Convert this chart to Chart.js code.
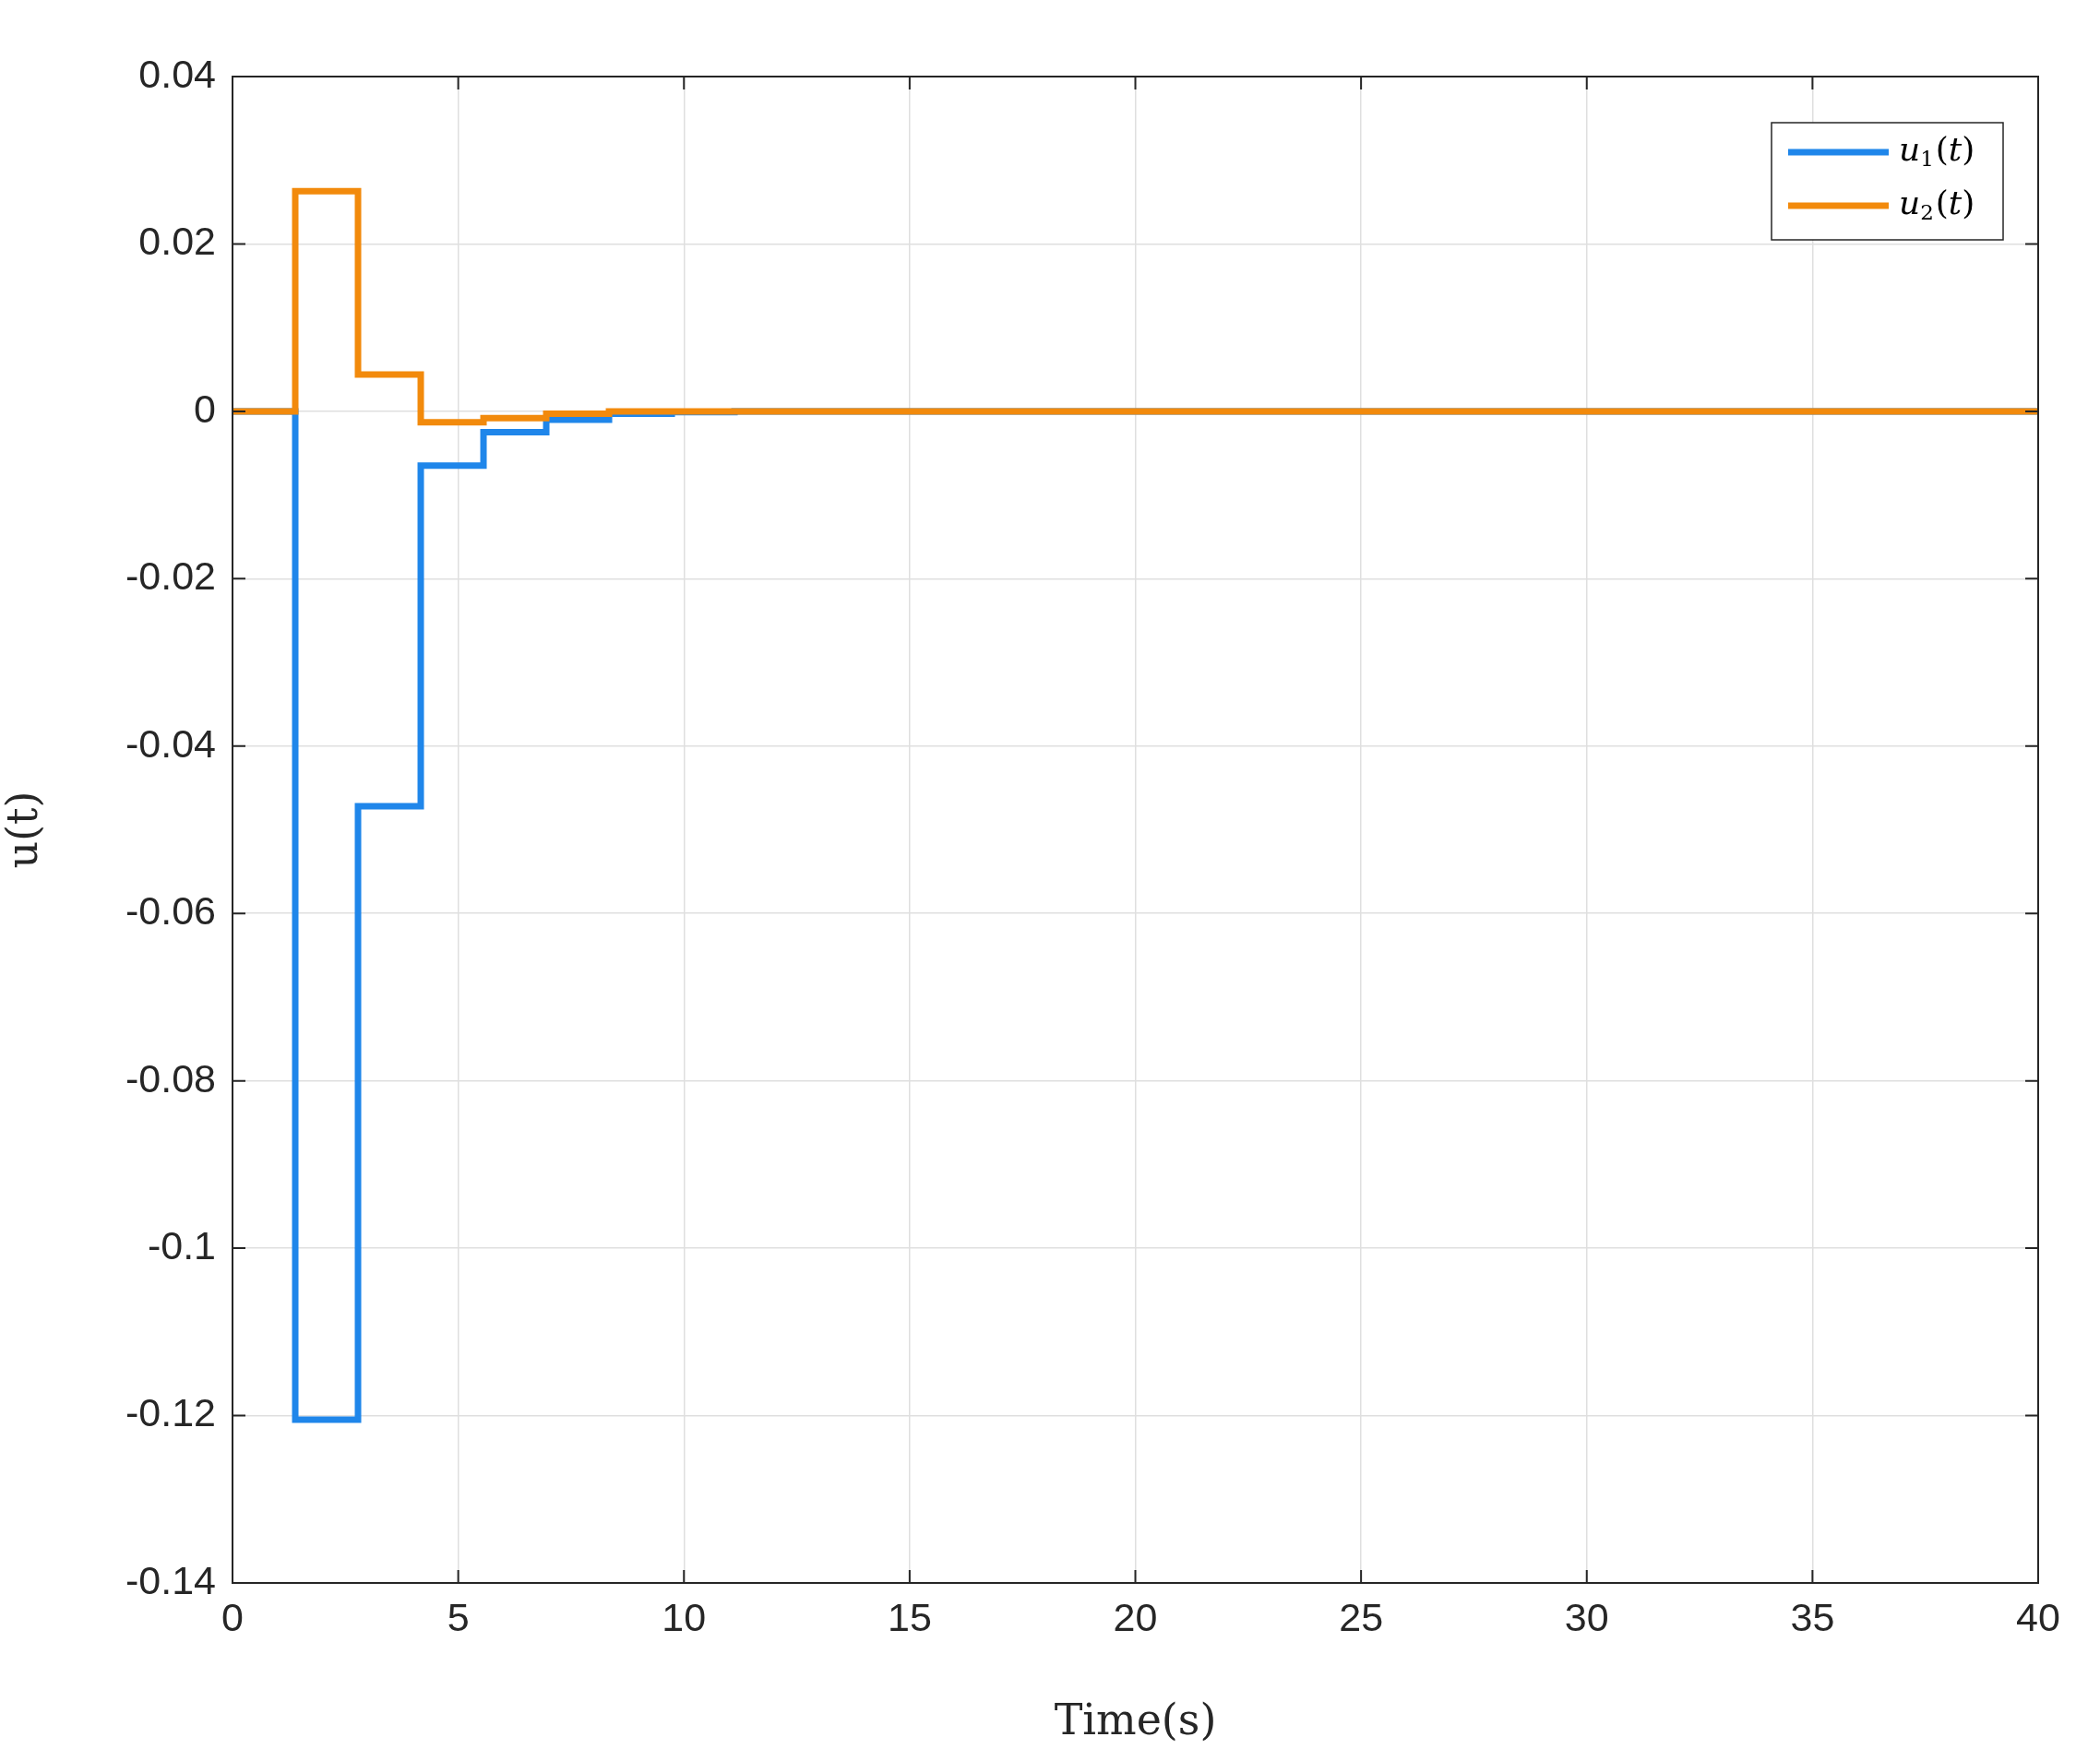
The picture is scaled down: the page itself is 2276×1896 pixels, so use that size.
<!DOCTYPE html>
<html><head><meta charset="utf-8">
<script src="https://cdn.jsdelivr.net/npm/chart.js@4"></script>
<style>html,body{margin:0;padding:0;background:#fff}</style>
</head><body>
<canvas id="c" width="2276" height="1896" style="width:2276px;height:1896px"></canvas>
<script>
const times = [0, 1.39, 2.78, 4.17, 5.56, 6.95, 8.34, 9.73, 11.12, 40];
const u1 = [0, -0.1205, -0.0472, -0.0065, -0.0025, -0.0010, -0.0003, -0.0001, 0, 0];
const u2 = [0, 0.0263, 0.0044, -0.0013, -0.0008, -0.0003, 0.0000, 0, 0, 0];
const xTicks = [0,5,10,15,20,25,30,35,40];
const yTicks = [-0.14,-0.12,-0.1,-0.08,-0.06,-0.04,-0.02,0,0.02,0.04];
const seriesNames = ['u1','u2'];
const colors = ['#1f86ea','#f28a0c'];

// value u_k is held from times[k-1] to times[k]
const pts = a => times.map((t,i)=>({x:t,y:a[i]}));
const fmt = v => { if (Math.abs(v)<1e-9) return '0'; let s = v.toFixed(2); s=s.replace(/0+$/,''); return s; };

const frame = {
  id:'frame',
  afterDraw(ch){
    const c=ch.ctx, a=ch.chartArea, xs=ch.scales.x, ys=ch.scales.y;
    c.save();
    c.strokeStyle='#262626'; c.lineWidth=2;
    c.strokeRect(a.left,a.top,a.right-a.left,a.bottom-a.top);
    const L=14;
    c.beginPath();
    xTicks.forEach(v=>{const x=xs.getPixelForValue(v);c.moveTo(x,a.bottom);c.lineTo(x,a.bottom-L);c.moveTo(x,a.top);c.lineTo(x,a.top+L);});
    yTicks.forEach(v=>{const y=ys.getPixelForValue(v);c.moveTo(a.left,y);c.lineTo(a.left+L,y);c.moveTo(a.right,y);c.lineTo(a.right-L,y);});
    c.stroke();
    const bx=1920, by=133, bw=251, bh=127;
    c.fillStyle='#fff'; c.fillRect(bx,by,bw,bh);
    c.lineWidth=1.5; c.strokeStyle='#262626'; c.strokeRect(bx,by,bw,bh);
    [165,223].forEach((y,i)=>{
      c.strokeStyle=colors[i]; c.lineWidth=7;
      c.beginPath(); c.moveTo(1938,y); c.lineTo(2047,y); c.stroke();
      c.fillStyle='#000'; c.textBaseline='middle'; c.textAlign='left';
      c.font='italic 36px "DejaVu Serif", serif';
      let x=2058; c.fillText('u',x,y); x+=c.measureText('u').width;
      c.font='23px "DejaVu Serif", serif'; c.fillText(String(i+1),x,y+9); x+=c.measureText(String(i+1)).width+2;
      c.font='36px "DejaVu Serif", serif'; c.fillText('(',x,y); x+=c.measureText('(').width;
      c.font='italic 36px "DejaVu Serif", serif'; c.fillText('t',x,y); x+=c.measureText('t').width;
      c.font='36px "DejaVu Serif", serif'; c.fillText(')',x,y);
    });
    c.restore();
  }
};

new Chart(document.getElementById('c'),{
  type:'line',
  data:{datasets:[
    {label:seriesNames[1],data:pts(u2),borderColor:colors[1],borderWidth:7,stepped:'before',pointRadius:0,fill:false},
    {label:seriesNames[0],data:pts(u1),borderColor:colors[0],borderWidth:7,stepped:'before',pointRadius:0,fill:false}
  ].reverse().reverse()},
  options:{
    responsive:false,animation:false,devicePixelRatio:1,
    layout:{padding:{top:83,right:67,left:0,bottom:0}},
    plugins:{legend:{display:false},tooltip:{enabled:false}},
    scales:{
      x:{type:'linear',min:0,max:40,
        afterBuildTicks:s=>{s.ticks=xTicks.map(v=>({value:v}));},
        afterFit:s=>{s.height=180;},
        grid:{color:'#dfdfdf',lineWidth:1.5,drawTicks:false},border:{display:false},
        ticks:{padding:14,color:'#262626',font:{family:'"Liberation Sans", Arial',size:43},maxRotation:0},
        title:{display:true,text:'Time(s)',color:'#262626',font:{family:'"DejaVu Serif", serif',size:46},padding:{top:0,bottom:0}}
      },
      y:{type:'linear',min:-0.14,max:0.04,
        afterBuildTicks:s=>{s.ticks=yTicks.map(v=>({value:v}));},
        afterFit:s=>{s.width=252;},
        grid:{color:'#dfdfdf',lineWidth:1.5,drawTicks:false},border:{display:false},
        ticks:{padding:18,color:'#262626',font:{family:'"Liberation Sans", Arial',size:43},callback:v=>fmt(v)},
        title:{display:true,text:'u(t)',color:'#262626',font:{family:'"DejaVu Serif", serif',size:46},padding:{top:0,bottom:0}}
      }
    }
  },
  plugins:[frame]
});
</script>
</body></html>
